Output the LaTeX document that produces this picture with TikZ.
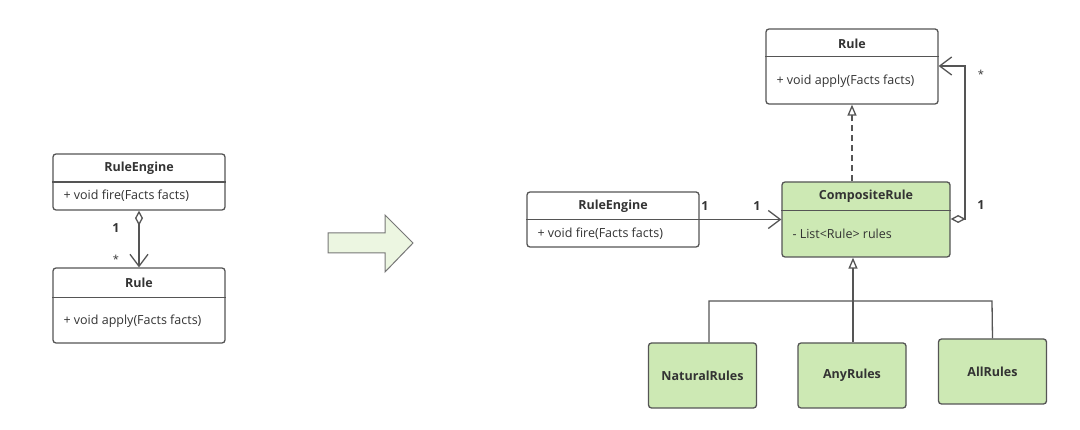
\documentclass[tikz,border=0pt]{standalone}
\usepackage{fontspec}
\setmainfont{Open Sans}
\usetikzlibrary{arrows.meta,calc}
\definecolor{strk}{HTML}{555555}
\definecolor{txt}{HTML}{333333}
\definecolor{grn}{HTML}{CDE9B4}
\definecolor{bigarrow}{HTML}{ECF6E1}
\tikzset{
  umlbox/.style={draw=strk,line width=1.3pt,rounded corners=3pt,fill=white,inner sep=0pt},
  greenbox/.style={umlbox,fill=grn},
  ttl/.style={font=\fontsize{12.5}{14}\selectfont\bfseries,text=txt},
  mth/.style={font=\fontsize{12.5}{14}\selectfont,text=txt,anchor=west},
  lbl/.style={font=\fontsize{12.5}{14}\selectfont\bfseries,text=txt},
  conn/.style={draw=strk,line width=1.3pt},
  barb/.tip={Straight Barb[length=12pt,width=18pt,line width=1.3pt]},
  dia/.tip={Diamond[open,length=15pt,width=8pt,line width=1.3pt]},
  tri/.tip={Triangle[open,length=11pt,width=9pt,line width=1.3pt,fill=white]},
}
\begin{document}
\begin{tikzpicture}[x=1pt,y=-1pt]
\useasboundingbox (0,0) rectangle (1080,430);
\fill[white] (0,0) rectangle (1080,430);

% ---------- left side ----------
\node[umlbox,minimum width=172pt,minimum height=56pt] (lre) at (139,182) {};
\draw[conn] (lre.west) -- (lre.east);
\node[ttl] (lreT) at (139,168) {RuleEngine};
\node[mth] (lreM) at (60,196) {+ void fire(Facts facts)};

\node[umlbox,minimum width=172pt,minimum height=75pt] (lr) at (139,305.5) {};
\draw[conn] ($(lr.north west)+(0,30)$) -- ($(lr.north east)+(0,30)$);
\node[ttl] (lrT) at (139,283) {Rule};
\node[mth] (lrM) at (60,321) {+ void apply(Facts facts)};

\draw[conn,dia-barb] (lre.south) -- (lr.north);
\node[lbl] (l1) at (116,228) {1};
\node[font=\fontsize{11}{13}\selectfont,text=txt] (lstar) at (116,259) {*};

% ---------- big arrow ----------
\draw[draw=strk!80,line width=1pt,fill=bigarrow,line join=miter]
  (328,233) -- (385,233) -- (385,215) -- (413,243) -- (385,272) -- (385,253) -- (328,253) -- cycle;

% ---------- right side ----------
\node[umlbox,minimum width=172pt,minimum height=55pt] (rre) at (613,219.5) {};
\draw[conn] (rre.west) -- (rre.east);
\node[ttl] (rreT) at (613,206) {RuleEngine};
\node[mth] (rreM) at (534,234) {+ void fire(Facts facts)};

\node[greenbox,minimum width=168pt,minimum height=75pt] (comp) at (866,219.5) {};
\draw[conn] ($(comp.north west)+(0,29)$) -- ($(comp.north east)+(0,29)$);
\node[ttl] (compT) at (866,196) {CompositeRule};
\node[mth] (compM) at (789,234) {- List<Rule> rules};

\node[umlbox,minimum width=172pt,minimum height=75pt] (rr) at (852,66.5) {};
\draw[conn] ($(rr.north west)+(0,28)$) -- ($(rr.north east)+(0,28)$);
\node[ttl] (rrT) at (852,44) {Rule};
\node[mth] (rrM) at (773,81) {+ void apply(Facts facts)};

% association RuleEngine -> CompositeRule
\draw[conn,-barb] (rre.east) -- (rre.east -| comp.west);
\node[lbl] (a1) at (705,206) {1};
\node[lbl] (a2) at (757,206) {1};

% realization CompositeRule -> Rule
\draw[conn,dash pattern=on 6pt off 4pt,-tri] (comp.north -| rr.south) -- (rr.south);

% aggregation CompositeRule -> Rule
\coordinate (aggc) at (965,219);
\coordinate (aggt) at (965,66);
\draw[conn,dia-barb] (comp.east |- aggc) -- (aggc) -- (aggt) -- (rr.east |- aggt);
\node[font=\fontsize{11}{13}\selectfont,text=txt] (rstar) at (981,74) {*};
\node[lbl] (r1) at (981,205) {1};

% children
\node[greenbox,minimum width=108pt,minimum height=65pt,ttl] (nat) at (702.5,375.5) {NaturalRules};
\node[greenbox,minimum width=108pt,minimum height=65pt,ttl] (any) at (852,375.5) {AnyRules};
\node[greenbox,minimum width=108pt,minimum height=65pt,ttl] (all) at (992.5,371.5) {AllRules};

\coordinate (bus) at (853,301);
\coordinate (busL) at (709,301);
\coordinate (busR) at (992,301);
\draw[conn] ($(nat.north)+(6.5,0)$) -- (busL) -- (busR) -- (all.north);
\draw[conn] ($(any.north)+(1,0)$) -- (bus);
\draw[conn,-tri] (bus) -- (bus |- comp.south);
\end{tikzpicture}
\end{document}
